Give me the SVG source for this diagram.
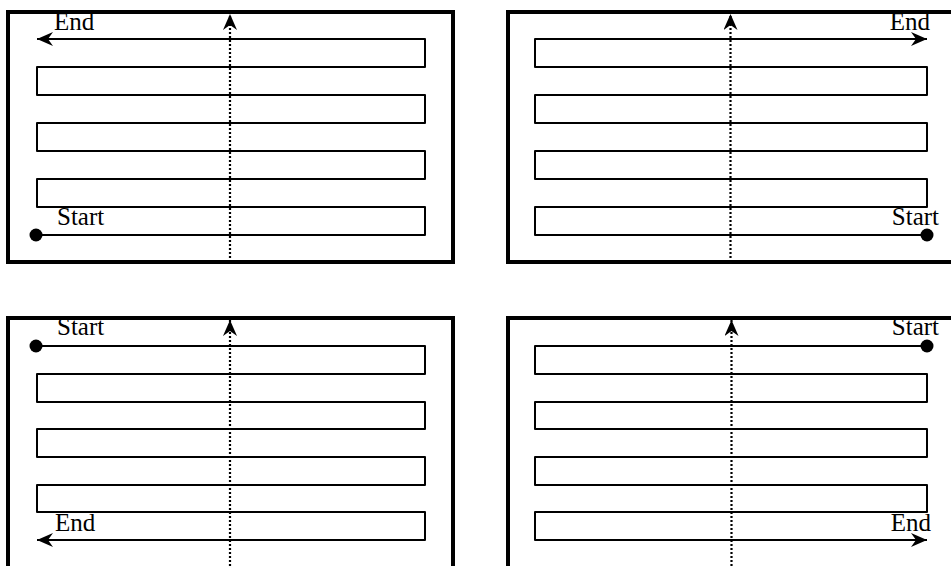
<svg xmlns="http://www.w3.org/2000/svg" width="951" height="566" viewBox="0 0 951 566">
<style>
.frame{fill:none;stroke:#000;stroke-width:4}
.lane{fill:none;stroke:#000;stroke-width:2;stroke-linejoin:round}
.dots{fill:none;stroke:#000;stroke-width:2.2;stroke-dasharray:2 2}
.lbl{font-family:"Liberation Serif","Times New Roman",serif;font-size:25px;fill:#000}
.dot{fill:#000}
</style>
<defs>
<marker id="ah" markerUnits="userSpaceOnUse" viewBox="0 0 16 14" refX="16" refY="7" markerWidth="16" markerHeight="14" orient="auto">
<path d="M0,0 L16,7 L0,14 L5,7 z" fill="#000"/>
</marker>
</defs>
<g id="panel-top-left">
<rect class="frame" x="8" y="12" width="445" height="250"/>
<text class="lbl" x="54" y="30">End</text>
<text class="lbl" x="57" y="225">Start</text>
</g>
<g id="panel-top-right">
<rect class="frame" x="508" y="12" width="445" height="250"/>
<text class="lbl" x="930" y="30" text-anchor="end">End</text>
<text class="lbl" x="939" y="225" text-anchor="end">Start</text>
</g>
<g id="panel-bottom-left">
<rect class="frame" x="8" y="318" width="445" height="250"/>
<text class="lbl" x="57" y="335">Start</text>
<text class="lbl" x="55" y="531">End</text>
</g>
<g id="panel-bottom-right">
<rect class="frame" x="508" y="318" width="445" height="250"/>
<text class="lbl" x="939" y="335" text-anchor="end">Start</text>
<text class="lbl" x="931" y="531" text-anchor="end">End</text>
</g>
<g id="connectors">
<path class="lane" marker-end="url(#ah)" d="M37,235 H425 V207 H37 V179 H425 V151 H37 V123 H425 V95 H37 V67 H425 V39 H37"/>
<circle class="dot" cx="36" cy="235" r="6.5"/>
<path class="dots" marker-end="url(#ah)" d="M230,258 V14"/>
<path class="lane" marker-end="url(#ah)" d="M927,235 H535 V207 H927 V179 H535 V151 H927 V123 H535 V95 H927 V67 H535 V39 H927"/>
<circle class="dot" cx="927" cy="235" r="6.5"/>
<path class="dots" marker-end="url(#ah)" d="M730.5,258 V14"/>
<path class="lane" marker-end="url(#ah)" d="M37,346 H425 V374 H37 V402 H425 V429 H37 V457 H425 V485 H37 V512 H425 V540 H37"/>
<circle class="dot" cx="36" cy="346" r="6.5"/>
<path class="dots" marker-end="url(#ah)" d="M230,566 V320"/>
<path class="lane" marker-end="url(#ah)" d="M927,346 H535 V374 H927 V402 H535 V429 H927 V457 H535 V485 H927 V512 H535 V540 H927"/>
<circle class="dot" cx="927" cy="346" r="6.5"/>
<path class="dots" marker-end="url(#ah)" d="M731.5,566 V320"/>
</g>
</svg>
